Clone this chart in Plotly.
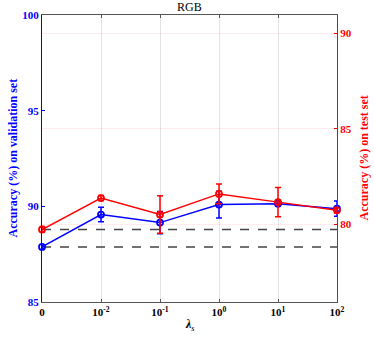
import plotly.graph_objects as go

# ── Datos ──────────────────────────────────────────────────────────────────────
LAMBDA_LABELS = ["0", "10<sup>-2</sup>", "10<sup>-1</sup>", "10<sup>0</sup>", "10<sup>1</sup>", "10<sup>2</sup>"]
X_POS = [0, 1, 2, 3, 4, 5]

VAL_ACC = [87.88, 89.57, 89.15, 90.09, 90.14, 89.88]   # eje izquierdo (validación)
VAL_ERR = [0.08, 0.38, 0.58, 0.70, 0.10, 0.40]

TEST_ACC = [79.74, 81.38, 80.52, 81.60, 81.17, 80.74]  # eje derecho (test)
TEST_ERR = [0.15, 0.13, 0.98, 0.52, 0.77, 0.15]

BLUE = "#0000FF"
RED = "#FF0000"
FONT = "Liberation Serif, Times New Roman, serif"

W, H = 374, 341
L, R, T, B = 42, 37, 15, 39

fig = go.Figure()

# líneas de referencia (valor en lambda = 0)
fig.add_trace(go.Scatter(
    x=[X_POS[0], X_POS[-1]], y=[VAL_ACC[0], VAL_ACC[0]], mode="lines",
    line=dict(color="#444", width=1.5, dash="dash"), showlegend=False, hoverinfo="skip",
))
fig.add_trace(go.Scatter(
    x=[X_POS[0], X_POS[-1]], y=[TEST_ACC[0], TEST_ACC[0]], mode="lines", yaxis="y2",
    line=dict(color="#444", width=1.5, dash="dash"), showlegend=False, hoverinfo="skip",
))

fig.add_trace(go.Scatter(
    x=X_POS, y=VAL_ACC, mode="lines+markers", name="validation",
    line=dict(color=BLUE, width=1.5),
    marker=dict(symbol="circle-open", size=6, color=BLUE, line=dict(width=1.8)),
    error_y=dict(type="data", array=VAL_ERR, color=BLUE, thickness=1.5, width=3),
    cliponaxis=False, showlegend=False,
))
fig.add_trace(go.Scatter(
    x=X_POS, y=TEST_ACC, mode="lines+markers", name="test", yaxis="y2",
    line=dict(color=RED, width=1.5),
    marker=dict(symbol="circle-open", size=6, color=RED, line=dict(width=1.8)),
    error_y=dict(type="data", array=TEST_ERR, color=RED, thickness=1.5, width=3),
    cliponaxis=False, showlegend=False,
))

# títulos como anotaciones (posición fija)
fig.add_annotation(text="RGB", xref="paper", yref="paper", x=0.5, y=1 + 8 / (H - T - B),
                   xanchor="center", yanchor="middle", showarrow=False,
                   font=dict(family=FONT, size=12, color="black"))
fig.add_annotation(text="<b><i>λ</i></b><sub><i>s</i></sub>", xref="paper", yref="paper",
                   x=0.5, y=-(325 - (H - B)) / (H - T - B), xanchor="center", yanchor="middle",
                   showarrow=False, font=dict(family=FONT, size=12, color="black"))
fig.add_annotation(text="<b>Accuracy (%) on validation set</b>", xref="paper", yref="paper",
                   x=-(L - 12) / (W - L - R), y=0.5, xanchor="center", yanchor="middle",
                   textangle=-90, showarrow=False, font=dict(family=FONT, size=12, color=BLUE))
fig.add_annotation(text="<b>Accuracy (%) on test set</b>", xref="paper", yref="paper",
                   x=1 + (363 - (W - R)) / (W - L - R), y=0.5, xanchor="center", yanchor="middle",
                   textangle=-90, showarrow=False, font=dict(family=FONT, size=12, color=RED))

fig.update_layout(
    width=W, height=H,
    margin=dict(l=L, r=R, t=T, b=B, autoexpand=False),
    paper_bgcolor="white", plot_bgcolor="white",
    font=dict(family=FONT, size=11, color="black"),
    xaxis=dict(
        range=[0, 5], tickvals=X_POS, ticktext=[f"<b>{t}</b>" for t in LAMBDA_LABELS],
        showline=True, linecolor="#555", linewidth=1, mirror="ticks",
        ticks="inside", ticklen=3, tickcolor="#555",
        showgrid=True, gridcolor="#E3E3E3", gridwidth=1, zeroline=False,
        tickfont=dict(family=FONT, size=11, color="black"), automargin=False,
    ),
    yaxis=dict(
        range=[85, 100], tickvals=[85, 90, 95, 100],
        ticktext=["<b>85</b>", "<b>90</b>", "<b>95</b>", "<b>100</b>"],
        showline=True, linecolor=BLUE, linewidth=1,
        ticks="inside", ticklen=3, tickcolor=BLUE,
        showgrid=False, zeroline=False, automargin=False,
        tickfont=dict(family=FONT, size=11, color=BLUE),
    ),
    yaxis2=dict(
        range=[75.95, 90.95], overlaying="y", side="right",
        tickvals=[80, 85, 90], ticktext=["<b>80</b>", "<b>85</b>", "<b>90</b>"],
        showline=True, linecolor=RED, linewidth=1,
        ticks="inside", ticklen=3, tickcolor=RED,
        showgrid=True, gridcolor="rgba(255,0,0,0.08)", zeroline=False, automargin=False,
        tickfont=dict(family=FONT, size=11, color=RED),
    ),
)

# quitar el margen por defecto del <body> para que la figura empiece en (0, 0)
fig.write_html("out.html", config={"displayModeBar": False},
               post_script="document.body.style.margin='0';")
